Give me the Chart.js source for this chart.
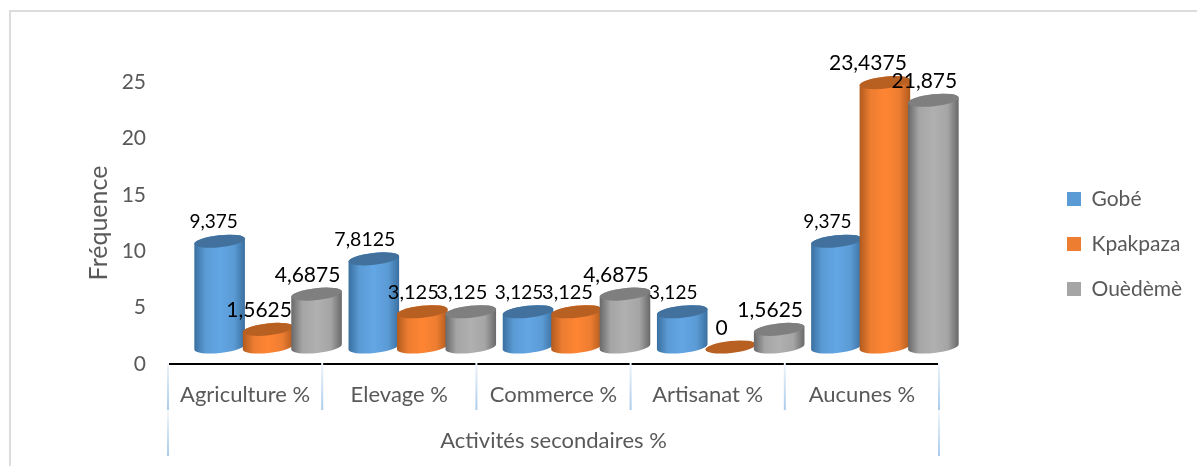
<!DOCTYPE html>
<html>
<head>
<meta charset="utf-8">
<title>Activités secondaires</title>
<script src="https://cdn.jsdelivr.net/npm/chart.js@4/dist/chart.umd.min.js"></script>
<style>
  html, body { margin: 0; padding: 0; background: #fff; overflow: hidden; }
  #frame { position: absolute; left: 9px; top: 10px; width: 1300px; height: 600px; border: 2px solid #dcdcdc; }
  #wrap { position: absolute; left: 0; top: 0; width: 1197px; height: 466px; }
</style>
</head>
<body>
<div id="frame"></div>
<div id="wrap"><canvas id="chart"></canvas></div>
<script>
const categories = ['Agriculture %', 'Elevage %', 'Commerce %', 'Artisanat %', 'Aucunes %'];
const gobe = [9.375, 7.8125, 3.125, 3.125, 9.375];
const kpakpaza = [1.5625, 3.125, 3.125, 0, 23.4375];
const ouedeme = [4.6875, 3.125, 4.6875, 1.5625, 21.875];
const yTicks = [0, 5, 10, 15, 20, 25];

// label font sizes, same order as the series
const labelSizes = [
  [19, 19.5, 19, 19, 19],
  [21, 20, 20, 21, 21],
  [21, 20, 21, 21, 21]
];

// the 3d bars sit up and to the right of the axes
const DEPTH_X = 23, DEPTH_Y = 17, TILT = -0.11, RY = 6;
const TEXT = '#595959';
const FONT = 'Lato';

const looks = [
  { face: '#5b9bd5', mid: '#62a6e5', edge: '#3a6f9f', top: '#41719c' },
  { face: '#ed7d31', mid: '#ff8533', edge: '#b05a1e', top: '#b85f22' },
  { face: '#a5a5a5', mid: '#b0b0b0', edge: '#686868', top: '#7f7f7f' }
];

function drawCylinder(ctx, bar, look) {
  const cx = bar.x + DEPTH_X;
  const top = bar.y - DEPTH_Y;
  const bottom = bar.base - DEPTH_Y;
  const rx = bar.width / 2;
  if (bottom - top > 0.5) {
    const grad = ctx.createLinearGradient(cx - rx, 0, cx + rx, 0);
    grad.addColorStop(0, look.edge);
    grad.addColorStop(0.22, look.face);
    grad.addColorStop(0.5, look.mid);
    grad.addColorStop(0.78, look.face);
    grad.addColorStop(1, look.edge);
    ctx.beginPath();
    ctx.ellipse(cx, bottom, rx, RY, TILT, 0, Math.PI);
    ctx.ellipse(cx, top, rx, RY, TILT, Math.PI, 0);
    ctx.closePath();
    ctx.fillStyle = grad;
    ctx.fill();
  }
  ctx.beginPath();
  ctx.ellipse(cx, top, rx, RY, TILT, 0, Math.PI * 2);
  ctx.fillStyle = look.top;
  ctx.fill();
}

const cylinders = {
  id: 'cylinders',
  afterInit(chart) {
    // room for the legend is set by hand, the plot stops well before it
    const legend = chart.legend;
    const fit = legend.fit;
    legend.fit = function () {
      fit.call(this);
      this.width = 258;
    };
  },
  afterLayout(chart) {
    const legend = chart.legend;
    legend.left = 1043;
    legend.right = 1197;
    legend.top -= 30;
    legend.bottom -= 30;
  },
  beforeDatasetDraw() {
    return false;
  },
  afterDatasetsDraw(chart) {
    const ctx = chart.ctx;
    chart.data.datasets.forEach((ds, i) => {
      chart.getDatasetMeta(i).data.forEach(bar => drawCylinder(ctx, bar, looks[i]));
    });
    chart.data.datasets.forEach((ds, i) => {
      chart.getDatasetMeta(i).data.forEach((bar, j) => {
        const text = String(ds.data[j]).replace('.', ',');
        let dx = -9;
        if (i === 0 && j === 0) dx = -6;
        if (i === 1 && j === 4) dx = -17;
        ctx.font = labelSizes[i][j] + 'px ' + FONT;
        ctx.fillStyle = '#000';
        ctx.textAlign = 'center';
        ctx.textBaseline = 'middle';
        ctx.fillText(text, bar.x + DEPTH_X + dx, bar.y - DEPTH_Y - 19);
      });
    });
    drawSeparators(chart);
  }
};

function drawSeparators(chart) {
  const ctx = chart.ctx, x = chart.scales.x;
  const step = x.width / categories.length;
  const axisY = chart.chartArea.bottom;
  for (let i = 0; i <= categories.length; i++) {
    const px = x.left + step * i;
    const end = (i === 0 || i === categories.length) ? 456 : 410;
    const grad = ctx.createLinearGradient(0, axisY, 0, 410);
    grad.addColorStop(0, '#eef4fb');
    grad.addColorStop(1, '#a9cbea');
    ctx.fillStyle = grad;
    ctx.fillRect(px - 1, axisY - 1, 2, 410 - axisY + 1);
    if (end > 410) {
      const grad2 = ctx.createLinearGradient(0, 410, 0, end);
      grad2.addColorStop(0, '#f4f8fc');
      grad2.addColorStop(1, '#a9cbea');
      ctx.fillStyle = grad2;
      ctx.fillRect(px - 1, 410, 2, end - 410);
    }
  }
}

new Chart(document.getElementById('chart'), {
  type: 'bar',
  data: {
    labels: categories,
    datasets: [
      { label: 'Gobé', data: gobe, backgroundColor: looks[0].face },
      { label: 'Kpakpaza', data: kpakpaza, backgroundColor: looks[1].face },
      { label: 'Ouèdèmè', data: ouedeme, backgroundColor: looks[2].face }
    ]
  },
  options: {
    responsive: true,
    maintainAspectRatio: false,
    animation: false,
    layout: { padding: { left: 0, right: 0, top: 82, bottom: 0 } },
    datasets: { bar: { categoryPercentage: 0.943, barPercentage: 1.05 } },
    scales: {
      x: {
        grid: { display: false },
        border: { color: '#000', width: 2 },
        ticks: { color: TEXT, font: { family: FONT, size: 22 }, padding: 10, maxRotation: 0 },
        title: { display: true, text: 'Activités secondaires %', color: TEXT, font: { family: FONT, size: 22 }, padding: { top: 20, bottom: 12 } },
        afterFit(scale) { scale.height = 102; }
      },
      y: {
        min: 0,
        max: 25,
        afterBuildTicks(scale) { scale.ticks = yTicks.map(v => ({ value: v })); },
        grid: { display: false },
        border: { display: false },
        ticks: { color: TEXT, font: { family: FONT, size: 21 }, padding: 14 },
        title: { display: true, text: 'Fréquence', color: TEXT, font: { family: FONT, size: 25 }, padding: { top: 84, bottom: 10 } },
        afterFit(scale) { scale.width = 168; }
      }
    },
    plugins: {
      legend: {
        position: 'right',
        labels: { color: TEXT, font: { family: FONT, size: 21 }, boxWidth: 14, boxHeight: 14, padding: 24 }
      },
      tooltip: { enabled: false }
    }
  },
  plugins: [cylinders]
});
</script>
</body>
</html>
